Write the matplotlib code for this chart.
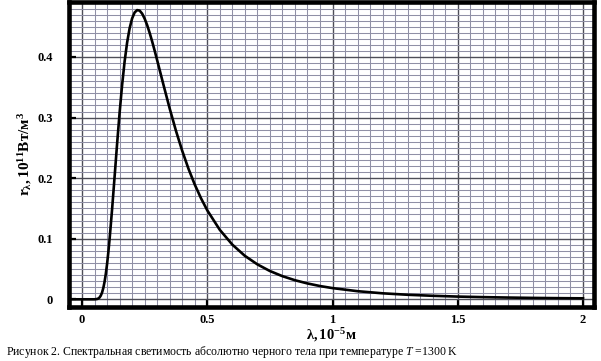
import numpy as np
import matplotlib
matplotlib.use("Agg")
import matplotlib.pyplot as plt

# data (lambda in 1e-5 m, r in 1e11 W/m^3)
wavelength = [-0.04, 0.0, 0.05, 0.06, 0.065, 0.07, 0.075, 0.08, 0.085, 0.09,
              0.095, 0.10, 0.105, 0.11, 0.12, 0.13, 0.14, 0.15, 0.16, 0.17,
              0.18, 0.19, 0.20, 0.21, 0.22, 0.23, 0.24, 0.25, 0.26, 0.27,
              0.28, 0.29, 0.30, 0.325, 0.35, 0.375, 0.40, 0.425, 0.45, 0.475,
              0.50, 0.55, 0.60, 0.65, 0.70, 0.75, 0.80, 0.85, 0.90, 0.95,
              1.0, 1.1, 1.2, 1.3, 1.4, 1.5, 1.6, 1.7, 1.8, 1.9, 2.0]
radiance = [0, 0, 0, 0.0005, 0.0013, 0.003, 0.0062, 0.0112, 0.0187, 0.0289,
            0.0421, 0.0583, 0.0775, 0.0991, 0.1485, 0.2022, 0.2566, 0.3078, 0.3537, 0.3925,
            0.4238, 0.4474, 0.4637, 0.4735, 0.4774, 0.4766, 0.4716, 0.4633, 0.4526, 0.4398,
            0.4256, 0.4104, 0.3946, 0.3543, 0.3149, 0.2782, 0.2451, 0.2155, 0.1895, 0.1668,
            0.1469, 0.1147, 0.0903, 0.0718, 0.0577, 0.0467, 0.0382, 0.0315, 0.0262, 0.0219,
            0.0185, 0.0134, 0.0099, 0.0075, 0.0058, 0.0045, 0.0036, 0.0029, 0.0023, 0.0019,
            0.0016]

xticks = [0, 0.5, 1, 1.5, 2]
xtick_labels = ["0", "0.5", "1", "1.5", "2"]
yticks = [0, 0.1, 0.2, 0.3, 0.4]
ytick_labels = ["0", "0.1", "0.2", "0.3", "0.4"]

caption = "Рисунок 2. Спектральная светимость абсолютно черного тела при температуре $T$ =1300 K"

plt.rcParams["font.family"] = ["Liberation Serif", "DejaVu Serif"]
plt.rcParams["mathtext.fontset"] = "custom"
plt.rcParams["mathtext.rm"] = "Liberation Serif"
plt.rcParams["mathtext.it"] = "Liberation Serif:italic"
plt.rcParams["mathtext.bf"] = "Liberation Serif:bold"

fig = plt.figure(figsize=(6.01, 3.61), dpi=100)
ax = fig.add_axes([0.11398, 0.14958, 0.8752, 0.84626])

ax.plot(wavelength, radiance, color="black", lw=1.9, zorder=3)

ax.set_xlim(-0.054, 2.046)
ax.set_ylim(-0.0127, 0.4916)

ax.set_xticks(xticks)
ax.set_xticklabels(xtick_labels)
ax.set_yticks(yticks)
ax.set_yticklabels(ytick_labels)
ax.set_xticks(np.arange(0, 2.001, 0.05), minor=True)
ax.set_yticks(np.arange(0, 0.491, 0.01), minor=True)

ax.grid(which="minor", color="#9090a6", lw=0.75, zorder=0)
ax.grid(which="major", color="#4e4e58", lw=1.0, zorder=1)
ax.set_axisbelow(True)

ax.tick_params(which="major", direction="in", length=5, width=1.6, color="black",
               labelsize=9, top=False, right=False)
ax.tick_params(axis="y", which="major", pad=11)
ax.tick_params(axis="x", which="major", pad=5)
ax.tick_params(which="minor", length=0)
for lab in ax.get_xticklabels() + ax.get_yticklabels():
    lab.set_fontweight("bold")

for sp in ax.spines.values():
    sp.set_linewidth(3.3)
    sp.set_color("black")

ax.set_xlabel(r"$\mathbf{\lambda,10^{-5}м}$", fontsize=10.5, labelpad=0)
ax.set_ylabel(r"$\mathbf{r_{\lambda},10^{11}Вт/м^{3}}$", fontsize=11, labelpad=3)

fig.text(0.01, 1 - 352 / 361, caption, fontsize=8.45, ha="left", va="center")

fig.savefig("out.png", dpi=100)
